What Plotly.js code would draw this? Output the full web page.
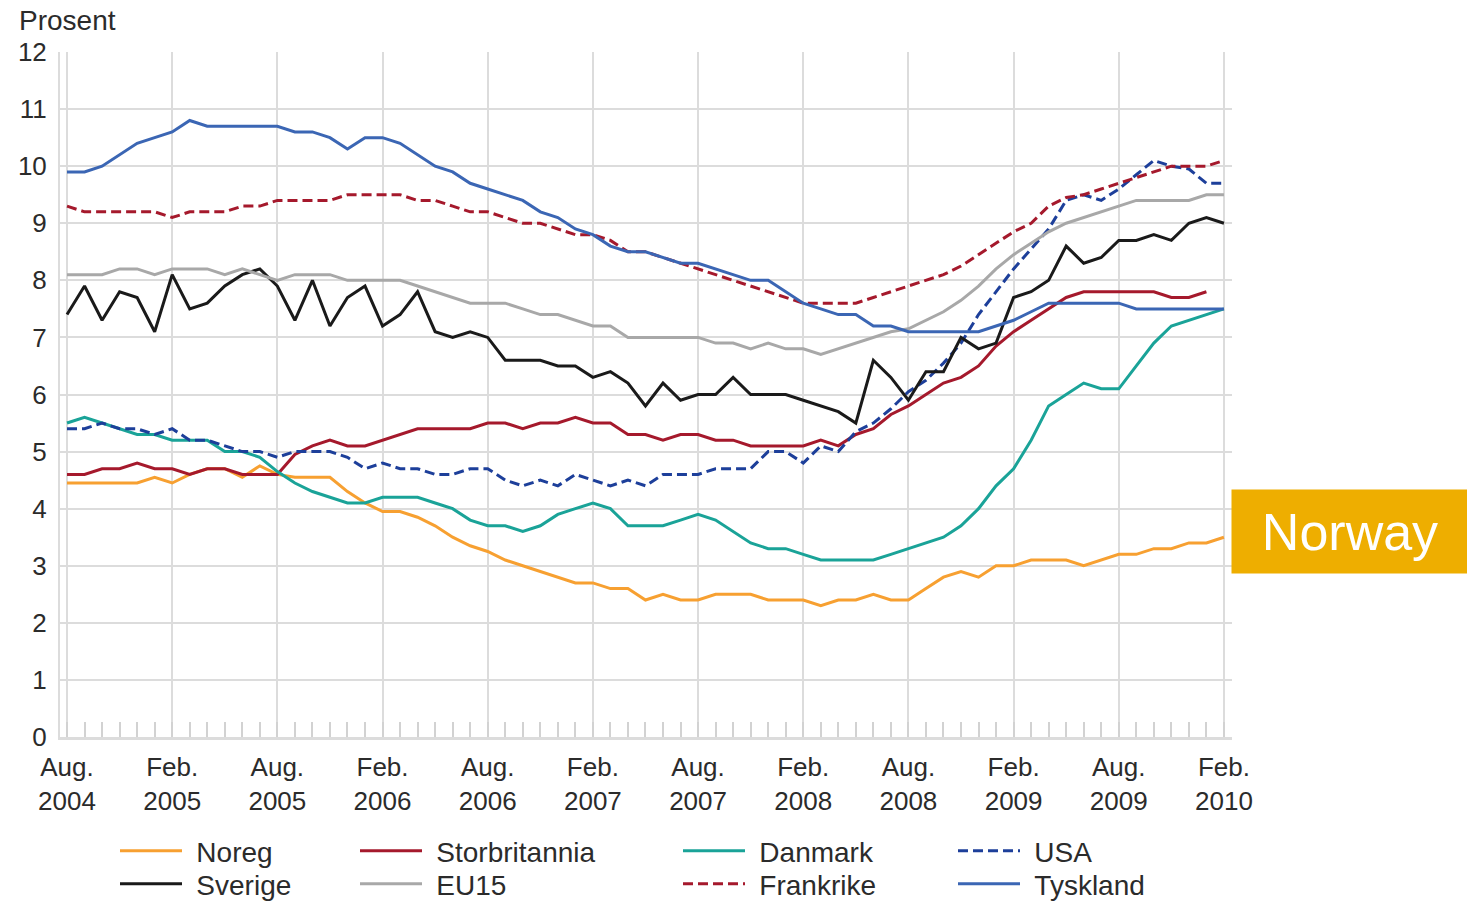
<!DOCTYPE html>
<html>
<head>
<meta charset="utf-8">
<script src="https://cdn.plot.ly/plotly-3.0.1.min.js"></script>
<style>
html,body{margin:0;padding:0;background:#ffffff;}
#chart{width:1467px;height:901px;}
</style>
</head>
<body>
<div id="chart"></div>
<script>
// ---- Data (percent, monthly Aug 2004 – Feb 2010) ----
const months = [
 '2004-08','2004-09','2004-10','2004-11','2004-12',
 '2005-01','2005-02','2005-03','2005-04','2005-05','2005-06','2005-07','2005-08','2005-09','2005-10','2005-11','2005-12',
 '2006-01','2006-02','2006-03','2006-04','2006-05','2006-06','2006-07','2006-08','2006-09','2006-10','2006-11','2006-12',
 '2007-01','2007-02','2007-03','2007-04','2007-05','2007-06','2007-07','2007-08','2007-09','2007-10','2007-11','2007-12',
 '2008-01','2008-02','2008-03','2008-04','2008-05','2008-06','2008-07','2008-08','2008-09','2008-10','2008-11','2008-12',
 '2009-01','2009-02','2009-03','2009-04','2009-05','2009-06','2009-07','2009-08','2009-09','2009-10','2009-11','2009-12',
 '2010-01','2010-02'
];
const tickMonths = ['2004-08','2005-02','2005-08','2006-02','2006-08','2007-02','2007-08','2008-02','2008-08','2009-02','2009-08','2010-02'];
const tickLabels = ['Aug.<br>2004','Feb.<br>2005','Aug.<br>2005','Feb.<br>2006','Aug.<br>2006','Feb.<br>2007','Aug.<br>2007','Feb.<br>2008','Aug.<br>2008','Feb.<br>2009','Aug.<br>2009','Feb.<br>2010'];

const noreg = [4.45,4.45,4.45,4.45,4.45,4.55,4.45,4.6,4.7,4.7,4.55,4.75,4.6,4.55,4.55,4.55,4.3,4.1,3.95,3.95,3.85,3.7,3.5,3.35,3.25,3.1,3.0,2.9,2.8,2.7,2.7,2.6,2.6,2.4,2.5,2.4,2.4,2.5,2.5,2.5,2.4,2.4,2.4,2.3,2.4,2.4,2.5,2.4,2.4,2.6,2.8,2.9,2.8,3.0,3.0,3.1,3.1,3.1,3.0,3.1,3.2,3.2,3.3,3.3,3.4,3.4,3.5];
const storbritannia = [4.6,4.6,4.7,4.7,4.8,4.7,4.7,4.6,4.7,4.7,4.6,4.6,4.6,4.95,5.1,5.2,5.1,5.1,5.2,5.3,5.4,5.4,5.4,5.4,5.5,5.5,5.4,5.5,5.5,5.6,5.5,5.5,5.3,5.3,5.2,5.3,5.3,5.2,5.2,5.1,5.1,5.1,5.1,5.2,5.1,5.3,5.4,5.65,5.8,6.0,6.2,6.3,6.5,6.85,7.1,7.3,7.5,7.7,7.8,7.8,7.8,7.8,7.8,7.7,7.7,7.8,null];
const danmark = [5.5,5.6,5.5,5.4,5.3,5.3,5.2,5.2,5.2,5.0,5.0,4.9,4.65,4.45,4.3,4.2,4.1,4.1,4.2,4.2,4.2,4.1,4.0,3.8,3.7,3.7,3.6,3.7,3.9,4.0,4.1,4.0,3.7,3.7,3.7,3.8,3.9,3.8,3.6,3.4,3.3,3.3,3.2,3.1,3.1,3.1,3.1,3.2,3.3,3.4,3.5,3.7,4.0,4.4,4.7,5.2,5.8,6.0,6.2,6.1,6.1,6.5,6.9,7.2,7.3,7.4,7.5];
const usa = [5.4,5.4,5.5,5.4,5.4,5.3,5.4,5.2,5.2,5.1,5.0,5.0,4.9,5.0,5.0,5.0,4.9,4.7,4.8,4.7,4.7,4.6,4.6,4.7,4.7,4.5,4.4,4.5,4.4,4.6,4.5,4.4,4.5,4.4,4.6,4.6,4.6,4.7,4.7,4.7,5.0,5.0,4.8,5.1,5.0,5.35,5.5,5.75,6.05,6.25,6.55,6.9,7.4,7.8,8.2,8.55,8.9,9.4,9.5,9.4,9.6,9.85,10.1,10.0,9.95,9.7,9.7];
const sverige = [7.4,7.9,7.3,7.8,7.7,7.1,8.1,7.5,7.6,7.9,8.1,8.2,7.9,7.3,8.0,7.2,7.7,7.9,7.2,7.4,7.8,7.1,7.0,7.1,7.0,6.6,6.6,6.6,6.5,6.5,6.3,6.4,6.2,5.8,6.2,5.9,6.0,6.0,6.3,6.0,6.0,6.0,5.9,5.8,5.7,5.5,6.6,6.3,5.9,6.4,6.4,7.0,6.8,6.9,7.7,7.8,8.0,8.6,8.3,8.4,8.7,8.7,8.8,8.7,9.0,9.1,9.0];
const eu15 = [8.1,8.1,8.1,8.2,8.2,8.1,8.2,8.2,8.2,8.1,8.2,8.1,8.0,8.1,8.1,8.1,8.0,8.0,8.0,8.0,7.9,7.8,7.7,7.6,7.6,7.6,7.5,7.4,7.4,7.3,7.2,7.2,7.0,7.0,7.0,7.0,7.0,6.9,6.9,6.8,6.9,6.8,6.8,6.7,6.8,6.9,7.0,7.1,7.15,7.3,7.45,7.65,7.9,8.2,8.45,8.65,8.85,9.0,9.1,9.2,9.3,9.4,9.4,9.4,9.4,9.5,9.5];
const frankrike = [9.3,9.2,9.2,9.2,9.2,9.2,9.1,9.2,9.2,9.2,9.3,9.3,9.4,9.4,9.4,9.4,9.5,9.5,9.5,9.5,9.4,9.4,9.3,9.2,9.2,9.1,9.0,9.0,8.9,8.8,8.8,8.7,8.5,8.5,8.4,8.3,8.2,8.1,8.0,7.9,7.8,7.7,7.6,7.6,7.6,7.6,7.7,7.8,7.9,8.0,8.1,8.25,8.45,8.65,8.85,9.0,9.3,9.45,9.5,9.6,9.7,9.8,9.9,10.0,10.0,10.0,10.1];
const tyskland = [9.9,9.9,10.0,10.2,10.4,10.5,10.6,10.8,10.7,10.7,10.7,10.7,10.7,10.6,10.6,10.5,10.3,10.5,10.5,10.4,10.2,10.0,9.9,9.7,9.6,9.5,9.4,9.2,9.1,8.9,8.8,8.6,8.5,8.5,8.4,8.3,8.3,8.2,8.1,8.0,8.0,7.8,7.6,7.5,7.4,7.4,7.2,7.2,7.1,7.1,7.1,7.1,7.1,7.2,7.3,7.45,7.6,7.6,7.6,7.6,7.6,7.5,7.5,7.5,7.5,7.5,7.5];

// ---- Layout geometry (pixels) ----
const W = 1467, H = 901;
const PL = 60, PR = 1232, PT = 52, PB = 737;
const px2x = p => (p - PL) / (PR - PL);
const px2y = p => (PB - p) / (PB - PT);
const FONT = 'Liberation Sans, Arial, Helvetica, sans-serif';
const TXT = '#2b2b2b';

const xIdx = months.map((m, i) => i);
const tickVals = tickMonths.map(m => months.indexOf(m));

// legend grid: column start (px) and row centre (px)
const legCols = [115, 355, 678, 953];
const legRows = [851, 884];

const series = [
  {name:'Noreg',         y:noreg,         color:'#f7a031', dash:'solid',    col:0, row:0},
  {name:'Storbritannia', y:storbritannia, color:'#a5192c', dash:'solid',    col:1, row:0},
  {name:'Danmark',       y:danmark,       color:'#1aa398', dash:'solid',    col:2, row:0},
  {name:'USA',           y:usa,           color:'#1d3f9a', dash:'10px,5px', col:3, row:0},
  {name:'Sverige',       y:sverige,       color:'#1a1a1a', dash:'solid',    col:0, row:1},
  {name:'EU15',          y:eu15,          color:'#a8a8a8', dash:'solid',    col:1, row:1},
  {name:'Frankrike',     y:frankrike,     color:'#a5192c', dash:'10px,5px', col:2, row:1},
  {name:'Tyskland',      y:tyskland,      color:'#3b66b4', dash:'solid',    col:3, row:1}
];

const legendKey = i => (i === 0 ? 'legend' : 'legend' + (i + 1));

const traces = series.map((s, i) => ({
  type:'scatter', mode:'lines', name:'\u2004' + s.name, x:xIdx, y:s.y,
  line:{color:s.color, width:3, dash:s.dash},
  legend:legendKey(i), hoverinfo:'skip', connectgaps:false
}));

const GRID = '#dcdcdc';
const layout = {
  width:W, height:H,
  margin:{l:PL, r:W-PR, t:PT, b:H-PB, pad:0, autoexpand:false},
  paper_bgcolor:'#ffffff', plot_bgcolor:'#ffffff',
  font:{family:FONT, color:TXT},
  showlegend:true,
  xaxis:{
    range:[-0.4, 66.46], tickmode:'array', tickvals:tickVals, ticktext:tickLabels,
    showgrid:true, gridcolor:GRID, gridwidth:2, ticks:'', zeroline:false,
    showline:true, linecolor:GRID, linewidth:3,
    tickfont:{family:FONT, size:26, color:TXT}, ticklabelstandoff:5,
    minor:{tick0:0, dtick:1, ticks:'inside', ticklen:15, tickcolor:'#d2d2d2', tickwidth:2, showgrid:false},
    fixedrange:true
  },
  yaxis:{
    range:[0,12], dtick:1, tick0:0, showgrid:true, gridcolor:GRID, gridwidth:2,
    ticks:'', zeroline:false, showline:true, linecolor:GRID, linewidth:2,
    tickfont:{family:FONT, size:26, color:TXT}, ticklabelstandoff:6, fixedrange:true
  },
  annotations:[
    {xref:'paper', yref:'paper', x:px2x(17), y:px2y(21), xanchor:'left', yanchor:'middle',
     text:'Prosent', showarrow:false, font:{family:FONT, size:28, color:TXT}},
    {xref:'paper', yref:'paper', x:px2x(1231), y:px2y(531.5), xanchor:'left', yanchor:'middle',
     text:'Norway', showarrow:false, bgcolor:'#eeae00', width:236, height:83, borderpad:0,
     align:'center', valign:'middle', font:{family:FONT, size:52, color:'#ffffff'}}
  ]
};

series.forEach((s, i) => {
  layout[legendKey(i)] = {
    x:px2x(legCols[s.col]), y:px2y(legRows[s.row]), xanchor:'left', yanchor:'middle',
    orientation:'v', font:{family:FONT, size:28, color:TXT}, bgcolor:'rgba(0,0,0,0)',
    borderwidth:0, itemwidth:62, itemclick:false, itemdoubleclick:false
  };
});

Plotly.newPlot('chart', traces, layout, {displayModeBar:false, staticPlot:true});
</script>
</body>
</html>
